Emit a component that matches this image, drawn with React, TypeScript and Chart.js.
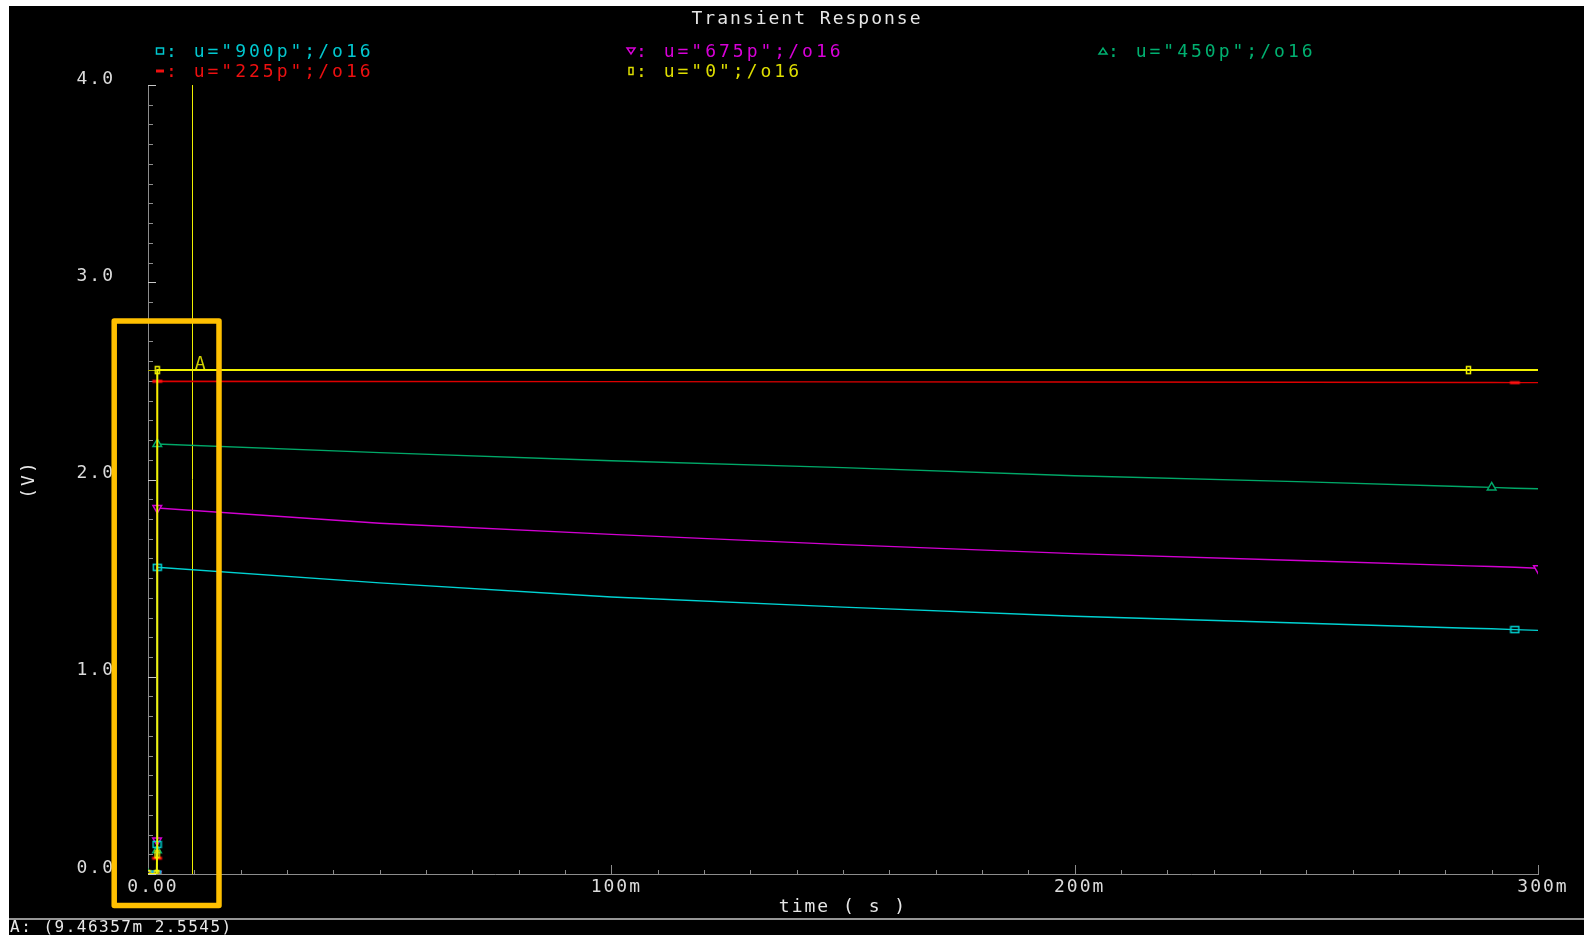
import React, { useEffect, useRef } from "react";
import { Chart, registerables } from "chart.js";

Chart.register(...registerables);

// ---- data ----
const timeMs = [0, 1.9, 1.95, 2, 50, 100, 150, 200, 250, 285, 290, 295, 300];
const v900p = [0, 0, 0.15, 1.555, 1.476, 1.404, 1.353, 1.307, 1.271, 1.246, 1.243, 1.239, 1.235];
const v675p = [0, 0, 0.17, 1.855, 1.778, 1.722, 1.67, 1.624, 1.588, 1.562, 1.559, 1.555, 1.55];
const v450p = [0, 0, 0.12, 2.18, 2.136, 2.095, 2.06, 2.019, 1.988, 1.963, 1.96, 1.956, 1.953];
const v225p = [0, 0, 0.08, 2.498, 2.497, 2.496, 2.495, 2.494, 2.493, 2.492, 2.492, 2.491, 2.491];
const v0p = [0, 0, 0.1, 2.5545, 2.5545, 2.5545, 2.5545, 2.5545, 2.5545, 2.5545, 2.5545, 2.5545, 2.5545];

const seriesLabels = ['u="900p";/o16', 'u="675p";/o16', 'u="450p";/o16', 'u="225p";/o16', 'u="0";/o16'];
const xTickValues = [0, 100, 200, 300];
const yTickValues = [0, 1, 2, 3, 4];
const cursorTime = 9.46357;
const cursorValue = 2.5545;
const chartTitle = "Transient Response";
const xTitle = "time ( s )";
const yTitle = "(V)";

const MONO = "'DejaVu Sans Mono', monospace";

const colors = {
  cyan: "#00d2d2",
  magenta: "#d200d2",
  green: "#00a868",
  red: "#dd0000",
  yellow: "#f2f200",
};
const legendColors = {
  cyan: "#00c8d0",
  magenta: "#d800d8",
  green: "#00b070",
  red: "#ee1010",
  yellow: "#dede00",
};

function pts(vals: number[]) {
  return timeMs.map((t, i) => ({ x: t, y: vals[i] }));
}

function markerRadius(idx: number[], r: number) {
  return (c: any) => (idx.includes(c.dataIndex) ? r : 0);
}

function makeRectMarker(w: number, h: number, color: string, filled: boolean) {
  const c = document.createElement("canvas");
  c.width = w + 3;
  c.height = h + 3;
  const g = c.getContext("2d")!;
  g.lineWidth = 1.5;
  g.strokeStyle = color;
  g.fillStyle = color;
  if (filled) g.fillRect(1.5, 1.5, w, h);
  else g.strokeRect(1.5, 1.5, w, h);
  return c;
}

function drawMarker(ctx: CanvasRenderingContext2D, style: string, x: number, y: number, color: string) {
  ctx.save();
  ctx.strokeStyle = color;
  ctx.fillStyle = color;
  ctx.lineWidth = 1.5;
  ctx.beginPath();
  if (style === "square") {
    ctx.strokeRect(x - 3.5, y - 3, 7, 6);
  } else if (style === "triDown") {
    ctx.moveTo(x - 4, y - 3);
    ctx.lineTo(x + 4, y - 3);
    ctx.lineTo(x, y + 3);
    ctx.closePath();
    ctx.stroke();
  } else if (style === "triUp") {
    ctx.moveTo(x - 4, y + 3);
    ctx.lineTo(x + 4, y + 3);
    ctx.lineTo(x, y - 3);
    ctx.closePath();
    ctx.stroke();
  } else if (style === "bar") {
    ctx.fillRect(x - 4, y - 1.5, 8, 3);
  } else if (style === "small") {
    ctx.strokeRect(x - 2, y - 3.5, 4, 7);
  }
  ctx.restore();
}

const decorPlugin = {
  id: "decor",
  beforeUpdate(chart: any) {
    chart.ctx.letterSpacing = "2px";
  },
  beforeDraw(chart: any) {
    const { ctx, width, height } = chart;
    ctx.save();
    ctx.fillStyle = "#ffffff";
    ctx.fillRect(0, 0, width, height);
    ctx.fillStyle = "#000000";
    ctx.fillRect(9, 6, width - 9, height - 6);
    ctx.restore();
  },
  beforeDatasetsDraw(chart: any) {
    const { ctx, chartArea } = chart;
    const xs = chart.scales.x;
    const ys = chart.scales.y;
    ctx.save();
    // y ticks (minor every 0.1, major every 1)
    for (let i = 0; i <= 40; i++) {
      const y = Math.round(ys.getPixelForValue(i / 10)) + 0.5;
      const major = i % 10 === 0;
      ctx.strokeStyle = major ? "#c8c8c8" : "#8c8c8c";
      ctx.lineWidth = 1;
      ctx.beginPath();
      ctx.moveTo(chartArea.left, y);
      ctx.lineTo(chartArea.left + (major ? 8 : 5), y);
      ctx.stroke();
    }
    // x ticks (minor every 10m, major every 100m)
    for (let t = 0; t <= 300; t += 10) {
      const x = Math.round(xs.getPixelForValue(t)) + 0.5;
      const major = t % 100 === 0;
      ctx.strokeStyle = "#8c8c8c";
      ctx.beginPath();
      ctx.moveTo(x, chartArea.bottom);
      ctx.lineTo(x, chartArea.bottom - (major ? 9 : 4));
      ctx.stroke();
    }
    // cursor A
    const cx = Math.round(xs.getPixelForValue(cursorTime)) + 0.5;
    const cy = Math.round(ys.getPixelForValue(cursorValue)) + 0.5;
    ctx.strokeStyle = "#f0f000";
    ctx.lineWidth = 1;
    ctx.beginPath();
    ctx.moveTo(cx, chartArea.top);
    ctx.lineTo(cx, chartArea.bottom);
    ctx.stroke();
    ctx.strokeStyle = "#a8a800";
    ctx.beginPath();
    ctx.moveTo(chartArea.left, cy);
    ctx.lineTo(cx + 36, cy);
    ctx.stroke();
    ctx.restore();
  },
  afterDraw(chart: any) {
    const { ctx, width } = chart;
    const xs = chart.scales.x;
    const ys = chart.scales.y;
    ctx.save();
    // title
    ctx.letterSpacing = "2px";
    ctx.font = `18px ${MONO}`;
    ctx.fillStyle = "#e6e6e6";
    ctx.textAlign = "center";
    ctx.textBaseline = "middle";
    ctx.fillText(chartTitle, 807, 19);

    // legend
    const items = [
      { label: seriesLabels[0], c: legendColors.cyan, m: "square", mx: 160, tx: 166, y: 51 },
      { label: seriesLabels[1], c: legendColors.magenta, m: "triDown", mx: 631, tx: 636, y: 51 },
      { label: seriesLabels[2], c: legendColors.green, m: "triUp", mx: 1103, tx: 1108, y: 51 },
      { label: seriesLabels[3], c: legendColors.red, m: "bar", mx: 160, tx: 166, y: 71 },
      { label: seriesLabels[4], c: legendColors.yellow, m: "small", mx: 631, tx: 636, y: 71 },
    ];
    ctx.letterSpacing = "3px";
    ctx.textAlign = "left";
    for (const it of items) {
      drawMarker(ctx, it.m, it.mx, it.y, it.c);
      ctx.fillStyle = it.c;
      ctx.fillText(": " + it.label, it.tx, it.y + 1);
    }

    // cursor label "A"
    const cx = xs.getPixelForValue(cursorTime);
    const cy = ys.getPixelForValue(cursorValue);
    ctx.letterSpacing = "0px";
    ctx.font = `18px ${MONO}`;
    ctx.fillStyle = "#d0d000";
    ctx.textAlign = "left";
    ctx.textBaseline = "alphabetic";
    ctx.fillText("A", cx + 3, cy - 1);

    // bottom separator + readout
    ctx.strokeStyle = "#c8c8c8";
    ctx.lineWidth = 1.5;
    ctx.beginPath();
    ctx.moveTo(9, 919);
    ctx.lineTo(width, 919);
    ctx.stroke();
    ctx.letterSpacing = "1.5px";
    ctx.font = `16px ${MONO}`;
    ctx.fillStyle = "#e8e8e8";
    ctx.textBaseline = "middle";
    ctx.fillText(`A: (${cursorTime}m ${cursorValue})`, 10, 928);

    // orange highlight box
    ctx.strokeStyle = "#ffc000";
    ctx.lineWidth = 5.5;
    ctx.lineJoin = "round";
    ctx.strokeRect(114.2, 321, 104.8, 584.5);
    ctx.restore();
  },
};

export default function App() {
  const ref = useRef<HTMLCanvasElement | null>(null);

  useEffect(() => {
    document.body.style.margin = "0";
    document.body.style.background = "#ffffff";
    document.body.style.overflow = "hidden";
    const canvas = ref.current;
    if (!canvas) return;

    const common = { pointBackgroundColor: "#000000", pointBorderWidth: 1.5, tension: 0, fill: false };
    const markerIdx = [0, 1, 2, 3];

    const yellowMarker = makeRectMarker(4, 7, colors.yellow, false);
    const cyanMarker = makeRectMarker(8, 6, colors.cyan, false);
    const redMarker = makeRectMarker(10, 3, "#ff1010", true);

    const chart = new Chart(canvas, {
      type: "line",
      data: {
        datasets: [
          {
            ...common,
            label: seriesLabels[4],
            data: pts(v0p),
            borderColor: colors.yellow,
            pointBorderColor: colors.yellow,
            borderWidth: 2,
            pointStyle: yellowMarker,
            pointRadius: markerRadius([...markerIdx, 9], 4),
            order: 0,
          },
          {
            ...common,
            label: seriesLabels[0],
            data: pts(v900p),
            borderColor: colors.cyan,
            pointBorderColor: colors.cyan,
            borderWidth: 1.4,
            pointStyle: cyanMarker,
            pointRadius: markerRadius([...markerIdx, 11], 4),
            order: 1,
          },
          {
            ...common,
            label: seriesLabels[1],
            data: pts(v675p),
            borderColor: colors.magenta,
            pointBorderColor: colors.magenta,
            borderWidth: 1.4,
            pointStyle: "triangle",
            pointRotation: 180,
            pointRadius: markerRadius([...markerIdx, 12], 5),
            order: 2,
          },
          {
            ...common,
            label: seriesLabels[2],
            data: pts(v450p),
            borderColor: colors.green,
            pointBorderColor: colors.green,
            borderWidth: 1.4,
            pointStyle: "triangle",
            pointRadius: markerRadius([...markerIdx, 10], 5),
            order: 3,
          },
          {
            ...common,
            label: seriesLabels[3],
            data: pts(v225p),
            borderColor: colors.red,
            pointBorderColor: colors.red,
            borderWidth: 1.4,
            pointStyle: redMarker,
            pointRadius: markerRadius([...markerIdx, 11], 5),
            order: 4,
          } as any,
        ],
      },
      options: {
        animation: false,
        responsive: false,
        devicePixelRatio: 1,
        layout: { padding: { left: 0, right: 46, top: 85, bottom: 16 } },
        plugins: {
          legend: { display: false },
          tooltip: { enabled: false },
          title: { display: false },
        },
        scales: {
          x: {
            type: "linear",
            min: 0,
            max: 300,
            afterFit: (s: any) => {
              s.height = 45;
            },
            afterBuildTicks: (s: any) => {
              s.ticks = xTickValues.map((v) => ({ value: v }));
            },
            grid: { display: false, drawTicks: false },
            border: { display: true, color: "#8c8c8c", width: 1 },
            ticks: {
              callback: (v: any) => (Number(v) === 0 ? "0.00" : `${v}m`),
              color: "#dcdcdc",
              font: { family: MONO, size: 18 },
              padding: 3,
              labelOffset: 5,
              maxRotation: 0,
              autoSkip: false,
            },
            title: {
              display: true,
              text: xTitle,
              color: "#e6e6e6",
              font: { family: MONO, size: 18 },
              padding: { top: 0, bottom: 1 },
            },
          },
          y: {
            type: "linear",
            min: 0,
            max: 4,
            afterFit: (s: any) => {
              s.width = 148;
            },
            afterBuildTicks: (s: any) => {
              s.ticks = yTickValues.map((v) => ({ value: v }));
            },
            grid: { display: false, drawTicks: false },
            border: { display: true, color: "#8c8c8c", width: 1 },
            ticks: {
              callback: (v: any) => Number(v).toFixed(1),
              color: "#dcdcdc",
              font: { family: MONO, size: 18 },
              padding: 33,
              labelOffset: -6,
            },
            title: {
              display: true,
              text: yTitle,
              color: "#e6e6e6",
              font: { family: MONO, size: 18 },
              padding: { top: 19, bottom: 0 },
            },
          },
        },
      } as any,
      plugins: [decorPlugin as any],
    });

    return () => chart.destroy();
  }, []);

  return <canvas ref={ref} width={1584} height={935} style={{ display: "block" }} />;
}
